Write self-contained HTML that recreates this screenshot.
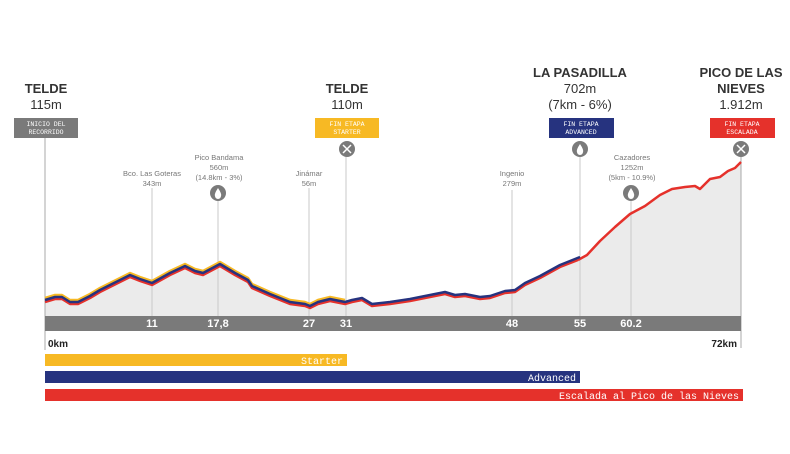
<!DOCTYPE html>
<html><head><meta charset="utf-8"><style>
html,body{margin:0;padding:0;background:#fff;}
svg{display:block;font-family:"Liberation Sans",sans-serif;}
.mono{font-family:"Liberation Mono",monospace;}
</style></head><body>
<svg width="790" height="454" viewBox="0 0 790 454" xmlns="http://www.w3.org/2000/svg">
<!-- fill -->
<path d="M45,300 L55,297 L62,297 L70,302 L78,302 L90,296 L100,290 L130,275 L140,279 L152,283 L170,273 L185,266 L195,271 L203,273 L220,264 L235,273 L248,280 L252,286 L270,294 L290,302 L305,304 L310,306 L318,302 L330,299 L345,302 L352,300 L362,298 L372,304 L390,302 L410,299 L430,295 L445,292 L455,295 L465,294 L480,297 L490,296 L505,291 L515,290 L525,283 L540,276 L560,265 L580,258 L587,254 L600,240 L615,226 L630,213 L645,205 L660,194 L672,188 L685,186 L695,185 L700,188 L710,178 L720,176 L728,170 L735,167 L741,161 L741,316 L45,316 Z" fill="#ebebeb"/>
<!-- vertical lines -->
<g stroke="#c8c8c8" stroke-width="1">
<line x1="152" y1="188" x2="152" y2="316"/>
<line x1="218" y1="200" x2="218" y2="316"/>
<line x1="309" y1="188" x2="309" y2="316"/>
<line x1="346" y1="157" x2="346" y2="316"/>
<line x1="512" y1="190" x2="512" y2="316"/>
<line x1="580" y1="157" x2="580" y2="316"/>
<line x1="631" y1="200" x2="631" y2="316"/>
</g>
<line x1="45" y1="138" x2="45" y2="350" stroke="#aaa" stroke-width="1"/>
<line x1="741" y1="150" x2="741" y2="348" stroke="#aaa" stroke-width="1"/>
<!-- lines -->
<g fill="none" stroke-width="2.5" stroke-linejoin="round">
<path transform="translate(0,-2)" stroke="#f7b924" d="M45,300 L55,297 L62,297 L70,302 L78,302 L90,296 L100,290 L130,275 L140,279 L152,283 L170,273 L185,266 L195,271 L203,273 L220,264 L235,273 L248,280 L252,286 L270,294 L290,302 L305,304 L310,306 L318,302 L330,299 L345,302"/>
<path transform="translate(0,2)" stroke="#e5312b" d="M45,300 L55,297 L62,297 L70,302 L78,302 L90,296 L100,290 L130,275 L140,279 L152,283 L170,273 L185,266 L195,271 L203,273 L220,264 L235,273 L248,280 L252,286 L270,294 L290,302 L305,304 L310,306 L318,302 L330,299 L345,302 L352,300 L362,298 L372,304 L390,302 L410,299 L430,295 L445,292 L455,295 L465,294 L480,297 L490,296 L505,291 L515,290 L525,283 L540,276 L560,265 L578,258"/>
<path stroke="#e5312b" d="M578,260 L587,255 L600,241 L615,227 L630,214 L645,206 L660,195 L672,189 L685,187 L695,186 L700,189 L710,179 L720,177 L728,171 L735,168 L741,162"/>
<path stroke="#26337f" d="M45,300 L55,297 L62,297 L70,302 L78,302 L90,296 L100,290 L130,275 L140,279 L152,283 L170,273 L185,266 L195,271 L203,273 L220,264 L235,273 L248,280 L252,286 L270,294 L290,302 L305,304 L310,306 L318,302 L330,299 L345,302 L352,300 L362,298 L372,304 L390,302 L410,299 L430,295 L445,292 L455,295 L465,294 L480,297 L490,296 L505,291 L515,290 L525,283 L540,276 L560,265 L580,257"/>
</g>
<!-- axis bar -->
<rect x="45" y="316" width="696" height="15" fill="#7a7a7a"/>
<g fill="#fff" font-size="11" font-weight="bold" text-anchor="middle">
<text x="152" y="327">11</text><text x="218" y="327">17,8</text><text x="309" y="327">27</text>
<text x="346" y="327">31</text><text x="512" y="327">48</text><text x="580" y="327">55</text><text x="631" y="327">60.2</text>
</g>
<text x="48" y="347" font-size="10" font-weight="bold" fill="#222">0km</text>
<text x="737" y="347" font-size="10" font-weight="bold" fill="#222" text-anchor="end">72km</text>
<!-- bottom bars -->
<rect x="45" y="354" width="302" height="12" fill="#f7b924"/>
<rect x="45" y="371" width="535" height="12" fill="#26337f"/>
<rect x="45" y="389" width="698" height="12" fill="#e5312b"/>
<g class="mono" fill="#fff" font-size="10" text-anchor="end">
<text x="343" y="364">Starter</text><text x="576" y="381">Advanced</text><text x="739" y="399">Escalada al Pico de las Nieves</text>
</g>
<!-- headers -->
<g text-anchor="middle" fill="#333">
<text x="46" y="93" font-size="13" font-weight="bold">TELDE</text>
<text x="46" y="109" font-size="13">115m</text>
<text x="347" y="93" font-size="13" font-weight="bold">TELDE</text>
<text x="347" y="109" font-size="13">110m</text>
<text x="580" y="77" font-size="13" font-weight="bold">LA PASADILLA</text>
<text x="580" y="93" font-size="13">702m</text>
<text x="580" y="109" font-size="13">(7km - 6%)</text>
<text x="741" y="77" font-size="13" font-weight="bold">PICO DE LAS</text>
<text x="741" y="93" font-size="13" font-weight="bold">NIEVES</text>
<text x="741" y="109" font-size="13">1.912m</text>
</g>
<!-- boxes -->
<rect x="14" y="118" width="64" height="20" fill="#7a7a7a"/>
<rect x="315" y="118" width="64" height="20" fill="#f7b924"/>
<rect x="549" y="118" width="65" height="20" fill="#26337f"/>
<rect x="710" y="118" width="65" height="20" fill="#e5312b"/>
<g class="mono" fill="#fff" font-size="6.5" text-anchor="middle">
<text x="46" y="126">INICIO DEL</text><text x="46" y="134">RECORRIDO</text>
<text x="347" y="126">FIN ETAPA</text><text x="347" y="134">STARTER</text>
<text x="581" y="126">FIN ETAPA</text><text x="581" y="134">ADVANCED</text>
<text x="742" y="126">FIN ETAPA</text><text x="742" y="134">ESCALADA</text>
</g>
<!-- icons -->
<g fill="#7a7a7a">
<circle cx="347" cy="149" r="8"/><circle cx="580" cy="149" r="8"/><circle cx="741" cy="149" r="8"/>
<circle cx="218" cy="193" r="8"/><circle cx="631" cy="193" r="8"/>
</g>
<g stroke="#fff" stroke-width="1.5"><line x1="343" y1="145" x2="351" y2="153"/><line x1="351" y1="145" x2="343" y2="153"/>
<line x1="737" y1="145" x2="745" y2="153"/><line x1="745" y1="145" x2="737" y2="153"/></g>
<g fill="#fff"><path d="M580,144 Q576,150 577,152 A3,3 0 0 0 583,152 Q584,150 580,144Z"/>
<path d="M218,188 Q214,194 215,196 A3,3 0 0 0 221,196 Q222,194 218,188Z"/>
<path d="M631,188 Q627,194 628,196 A3,3 0 0 0 634,196 Q635,194 631,188Z"/></g>
<!-- small labels -->
<g fill="#777" font-size="7.5" text-anchor="middle">
<text x="152" y="176">Bco. Las Goteras</text><text x="152" y="186">343m</text>
<text x="219" y="160">Pico Bandama</text><text x="219" y="170">560m</text><text x="219" y="180">(14.8km - 3%)</text>
<text x="309" y="176">Jinámar</text><text x="309" y="186">56m</text>
<text x="512" y="176">Ingenio</text><text x="512" y="186">279m</text>
<text x="632" y="160">Cazadores</text><text x="632" y="170">1252m</text><text x="632" y="180">(5km - 10.9%)</text>
</g>
</svg>
</body></html>
